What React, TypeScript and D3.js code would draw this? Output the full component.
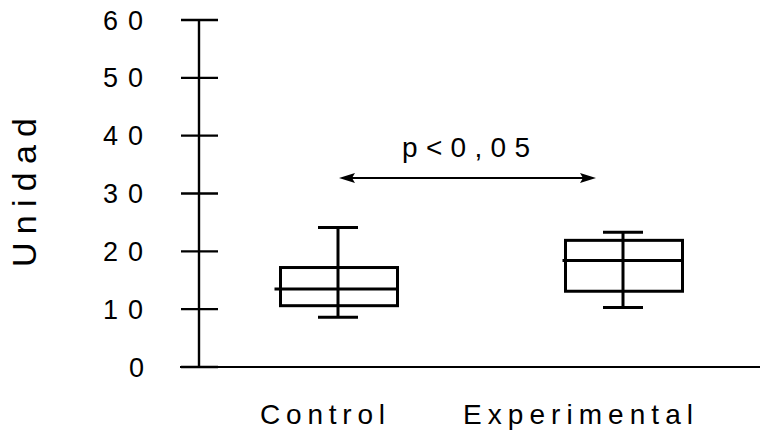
import React from "react";
import * as d3 from "d3";

const categories = ["Control", "Experimental"];
const whiskerLow = [8.6, 10.3];
const q1 = [10.6, 13.1];
const medians = [13.5, 18.4];
const q3 = [17.2, 21.9];
const whiskerHigh = [24.1, 23.3];
const yTicks = [0, 10, 20, 30, 40, 50, 60];
const yTickLabels = ["0", "10", "20", "30", "40", "50", "60"];
const yTitle = "Unidad";
const annotation = "p<0,05";

const W = 760;
const H = 440;
const FONT = "'Liberation Sans', Arial, sans-serif";

export default function App() {
  const y = d3.scaleLinear().domain([0, 60]).range([367, 20]);
  const x = d3.scalePoint<string>().domain(categories).range([338, 623]);
  const axisX = 199;
  const boxW = 117;
  const capW = 40;
  const labelX = [260, 463];
  const labelLen = [125, 230];

  const arrowY = 178;
  const arrowL = (x(categories[0]) as number) + 1;
  const arrowR = (x(categories[1]) as number) - 27;

  return (
    <svg width={W} height={H} style={{ position: "absolute", left: 0, top: 0, background: "#fff" }}>
      <rect x={0} y={0} width={W} height={H} fill="#fff" />
      {/* y axis */}
      <line x1={axisX} x2={axisX} y1={y(60)} y2={y(0)} stroke="#000" strokeWidth={2.4} />
      {/* x axis */}
      <line x1={180} x2={W} y1={y(0)} y2={y(0)} stroke="#000" strokeWidth={2.2} />
      {yTicks.map((t, i) => (
        <g key={t}>
          <line x1={181} x2={218} y1={y(t)} y2={y(t)} stroke="#000" strokeWidth={2.4} />
          <text
            x={t === 0 ? 129 : 103}
            y={y(t) + 9.5}
            fontFamily={FONT}
            fontSize={27}
            fill="#000"
            textLength={t === 0 ? 15 : 40}
            lengthAdjust="spacing"
          >
            {yTickLabels[i]}
          </text>
        </g>
      ))}
      <text
        transform={`translate(36, ${(118 + 267) / 2}) rotate(-90)`}
        textAnchor="middle"
        fontFamily={FONT}
        fontSize={34}
        fill="#000"
        textLength={149}
        lengthAdjust="spacing"
      >
        {yTitle}
      </text>
      {categories.map((c, i) => {
        const cx = x(c) as number;
        const bx = cx - boxW / 2 + 1;
        return (
          <g key={c} stroke="#000" strokeWidth={3} fill="none">
            <line x1={cx} x2={cx} y1={y(whiskerLow[i])} y2={y(whiskerHigh[i])} />
            <line x1={cx - capW / 2} x2={cx + capW / 2} y1={y(whiskerHigh[i])} y2={y(whiskerHigh[i])} />
            <line x1={cx - capW / 2} x2={cx + capW / 2} y1={y(whiskerLow[i])} y2={y(whiskerLow[i])} />
            <rect x={bx} y={y(q3[i])} width={boxW} height={y(q1[i]) - y(q3[i])} />
            <line x1={bx - (i === 0 ? 6 : 3)} x2={bx + boxW + 1} y1={y(medians[i])} y2={y(medians[i])} />
          </g>
        );
      })}
      {categories.map((c, i) => (
        <text
          key={c}
          x={labelX[i]}
          y={424}
          fontFamily={FONT}
          fontSize={28}
          fill="#000"
          textLength={labelLen[i]}
          lengthAdjust="spacing"
        >
          {c}
        </text>
      ))}
      {/* annotation arrow */}
      <line x1={arrowL + 10} x2={arrowR - 10} y1={arrowY} y2={arrowY} stroke="#000" strokeWidth={2} />
      <path d={`M${arrowL},${arrowY} L${arrowL + 16},${arrowY - 5} L${arrowL + 13},${arrowY} L${arrowL + 16},${arrowY + 5} Z`} fill="#000" />
      <path d={`M${arrowR},${arrowY} L${arrowR - 16},${arrowY - 5} L${arrowR - 13},${arrowY} L${arrowR - 16},${arrowY + 5} Z`} fill="#000" />
      <text x={402} y={157} fontFamily={FONT} fontSize={28} fill="#000" textLength={128} lengthAdjust="spacing">
        {annotation}
      </text>
    </svg>
  );
}
